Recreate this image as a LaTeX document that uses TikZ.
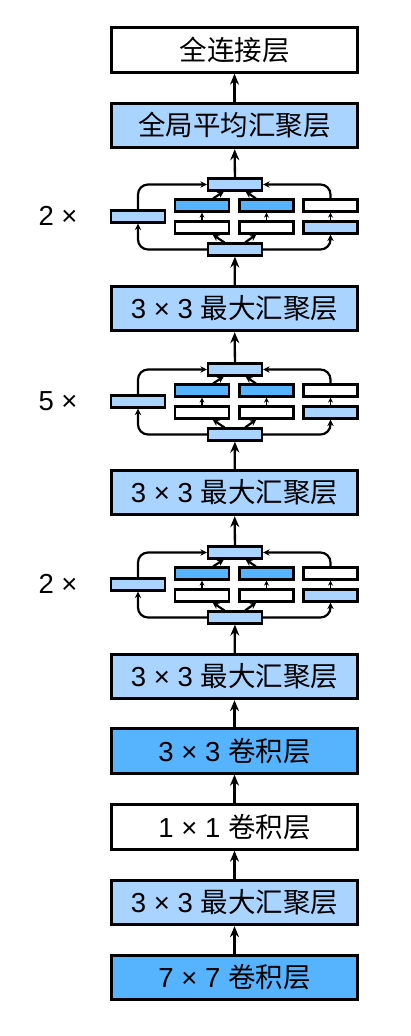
\documentclass[tikz,border=0pt]{standalone}
\usepackage{fontspec}
\setmainfont{Liberation Sans}
\newfontfamily\cjk{Noto Sans CJK SC}
\usetikzlibrary{arrows.meta}
\definecolor{lblue}{RGB}{168,212,255}
\definecolor{dblue}{RGB}{86,180,255}
\tikzset{
  layer/.style={draw, line width=2.8pt, minimum width=246pt, minimum height=44.5pt,
    inner sep=0pt, font=\fontsize{27.5}{30}\selectfont},
  blk/.style={draw, line width=2.2pt, minimum width=54pt, minimum height=12pt, inner sep=0pt},
  flow/.style={line width=2.3pt, -{Stealth[length=11pt,width=9pt]}},
  link/.style={line width=2.2pt, rounded corners=10pt, -{Stealth[length=6.5pt,width=6.5pt]}},
  short/.style={line width=1.6pt, -{Stealth[length=5pt,width=5pt]}},
}

\begin{document}
\begin{tikzpicture}[x=1pt, y=-1pt]
  \useasboundingbox (0,0) rectangle (410,1036);
  % stem
  \node[layer, fill=dblue] (conv7) at (234.5, 977.5) {7 × 7 {\cjk 卷积层}};
  \node[layer, fill=lblue] (mpA) at (234.5, 902.5) {3 × 3 {\cjk 最大汇聚层}};
  \node[layer, fill=white] (conv1) at (234.5, 827) {1 × 1 {\cjk 卷积层}};
  \node[layer, fill=dblue] (conv3) at (234.5, 751) {3 × 3 {\cjk 卷积层}};
  \node[layer, fill=lblue] (mpB) at (234.5, 676.5) {3 × 3 {\cjk 最大汇聚层}};
  \node[layer, fill=lblue] (mpC) at (234.5, 492.5) {3 × 3 {\cjk 最大汇聚层}};
  \node[layer, fill=lblue] (mpD) at (234.5, 308.5) {3 × 3 {\cjk 最大汇聚层}};
  \node[layer, fill=lblue] (gap) at (234.5, 125.5) {\cjk 全局平均汇聚层};
  \node[layer, fill=white] (fc) at (234.5, 50) {\cjk 全连接层};

  % inception blocks
  \foreach \n/\y/\k in {a/545/2, b/362/5, c/177/2} {
    \node[layer, draw=none, fill=none] at (58, \y+39) {\k\ ×};
    \node[blk, fill=lblue] (\n-top) at (235, \y+7.5) {};
    \node[blk, fill=lblue] (\n-bot) at (235, \y+72.5) {};
    \node[blk, fill=lblue] (\n-l) at (138, \y+39.5) {};
    \node[blk, fill=dblue] (\n-r1a) at (202, \y+28.5) {};
    \node[blk, fill=dblue] (\n-r1b) at (266.5, \y+28.5) {};
    \node[blk, fill=white] (\n-r1c) at (330.5, \y+28.5) {};
    \node[blk, fill=white] (\n-r2a) at (202, \y+50.5) {};
    \node[blk, fill=white] (\n-r2b) at (266.5, \y+50.5) {};
    \node[blk, fill=lblue] (\n-r2c) at (330.5, \y+50.5) {};
    \draw[link] (\n-bot) -| (\n-l);
    \draw[link] (\n-l) |- (\n-top);
    \draw[link] (\n-bot) -| (\n-r2c);
    \draw[link] (\n-r1c) |- (\n-top);
    \draw[link] (\n-bot) -- (\n-r2a);
    \draw[link] (\n-bot) -- (\n-r2b);
    \draw[link] (\n-r1a) -- (\n-top);
    \draw[link] (\n-r1b) -- (\n-top);
    \draw[short] (\n-r2a) -- (\n-r1a);
    \draw[short] (\n-r2b) -- (\n-r1b);
    \draw[short] (\n-r2c) -- (\n-r1c);
  }

  \draw[flow] (conv7) -- (mpA);
  \draw[flow] (mpA) -- (conv1);
  \draw[flow] (conv1) -- (conv3);
  \draw[flow] (conv3) -- (mpB);
  \draw[flow] (mpB) -- (a-bot);
  \draw[flow] (a-top) -- (mpC);
  \draw[flow] (mpC) -- (b-bot);
  \draw[flow] (b-top) -- (mpD);
  \draw[flow] (mpD) -- (c-bot);
  \draw[flow] (c-top) -- (gap);
  \draw[flow] (gap) -- (fc);
\end{tikzpicture}
\end{document}
